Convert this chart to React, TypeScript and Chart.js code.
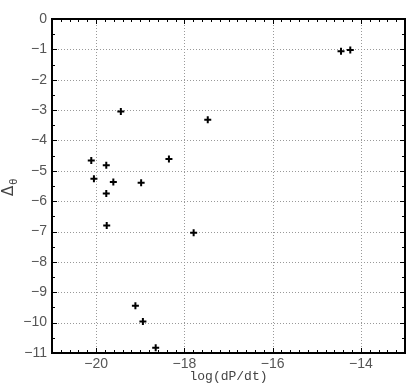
import React, { useEffect, useRef } from "react";
import { Chart, registerables } from "chart.js";

Chart.register(...registerables);

const xValues = [-14.45, -14.24, -19.44, -17.47, -20.11, -19.77, -20.05, -19.61, -19.77, -18.98, -18.35, -19.76, -17.79, -19.11, -18.94, -18.65];
const yValues = [-1.06, -1.02, -3.05, -3.32, -4.66, -4.82, -5.26, -5.37, -5.75, -5.39, -4.61, -6.8, -7.04, -9.44, -9.96, -10.83];
const xTicks = [-20, -18, -16, -14];
const yTicks = [0, -1, -2, -3, -4, -5, -6, -7, -8, -9, -10, -11];
const xTitle = "log(dP/dt)";
const yTitleMain = "Δ";
const yTitleSub = "θ";

const fmt = (v: number) => (v < 0 ? "\u2212" + Math.abs(v) : String(v));

const framePlugin = {
  id: "framePlugin",
  beforeDatasetsDraw(chart: any) {
    const { ctx, chartArea: a, scales } = chart;
    const xs = scales.x, ys = scales.y;
    ctx.save();
    ctx.strokeStyle = "#999";
    ctx.lineWidth = 1;
    ctx.setLineDash([1, 2]);
    xTicks.forEach((v) => {
      const px = Math.round(xs.getPixelForValue(v)) + 0.5;
      ctx.beginPath();
      ctx.moveTo(px, a.top);
      ctx.lineTo(px, a.bottom);
      ctx.stroke();
    });
    yTicks.forEach((v) => {
      const py = Math.round(ys.getPixelForValue(v)) + 0.5;
      ctx.beginPath();
      ctx.moveTo(a.left, py);
      ctx.lineTo(a.right, py);
      ctx.stroke();
    });
    ctx.restore();
  },
  afterDatasetsDraw(chart: any) {
    const { ctx, chartArea: a, scales } = chart;
    const xs = scales.x, ys = scales.y;
    ctx.save();
    ctx.strokeStyle = "#000";
    ctx.lineWidth = 1;
    for (let i = 0; i <= 40; i++) {
      const v = xs.min + i * 0.2;
      const px = Math.round(xs.getPixelForValue(v)) + 0.5;
      const major = xTicks.some((t) => Math.abs(t - v) < 1e-6);
      const len = major ? 5 : 3;
      ctx.beginPath();
      ctx.moveTo(px, a.bottom);
      ctx.lineTo(px, a.bottom - len);
      ctx.moveTo(px, a.top);
      ctx.lineTo(px, a.top + len);
      ctx.stroke();
    }
    for (let i = 0; i <= 22; i++) {
      const v = ys.min + i * 0.5;
      const py = Math.round(ys.getPixelForValue(v)) + 0.5;
      const major = Math.abs(v - Math.round(v)) < 1e-6;
      const len = major ? 5 : 3;
      ctx.beginPath();
      ctx.moveTo(a.left, py);
      ctx.lineTo(a.left + len, py);
      ctx.moveTo(a.right, py);
      ctx.lineTo(a.right - len, py);
      ctx.stroke();
    }
    ctx.lineWidth = 2;
    ctx.strokeRect(a.left, a.top, a.right - a.left, a.bottom - a.top);
    ctx.fillStyle = "#444";
    ctx.translate(13, 190);
    ctx.rotate(-Math.PI / 2);
    ctx.font = "15px 'DejaVu Sans'";
    ctx.textAlign = "left";
    ctx.textBaseline = "alphabetic";
    ctx.fillText(yTitleMain, -6, 0);
    const w = ctx.measureText(yTitleMain).width;
    ctx.font = "10px 'DejaVu Sans'";
    ctx.fillText(yTitleSub, -6 + w + 1, 4);
    ctx.restore();
  },
};

export default function App() {
  const ref = useRef<HTMLCanvasElement>(null);
  useEffect(() => {
    document.body.style.margin = "0";
    const chart = new Chart(ref.current!, {
      type: "scatter",
      data: {
        datasets: [
          {
            data: xValues.map((x, i) => ({ x, y: yValues[i] })),
            pointStyle: "cross",
            radius: 3.5,
            borderWidth: 2,
            borderColor: "#000",
            backgroundColor: "#000",
          } as any,
        ],
      },
      options: {
        responsive: false,
        animation: false,
        layout: { padding: { top: 19, right: 7, left: 0, bottom: 0 } },
        plugins: { legend: { display: false }, tooltip: { enabled: false } },
        scales: {
          x: {
            type: "linear",
            min: -21,
            max: -13,
            afterBuildTicks: (s: any) => {
              s.ticks = xTicks.map((v) => ({ value: v }));
            },
            afterFit: (s: any) => {
              s.height = 31;
            },
            grid: { display: false, drawTicks: false },
            border: { display: false },
            ticks: {
              callback: (v: any) => fmt(Number(v)),
              color: "#555",
              font: { family: "'Liberation Sans', sans-serif", size: 14 },
              padding: 3,
              maxRotation: 0,
            },
            title: {
              display: true,
              text: xTitle,
              color: "#444",
              font: { family: "'Liberation Mono', monospace", size: 13 },
              padding: 0,
            },
          },
          y: {
            type: "linear",
            min: -11,
            max: 0,
            afterBuildTicks: (s: any) => {
              s.ticks = yTicks.map((v) => ({ value: v }));
            },
            afterFit: (s: any) => {
              s.width = 52;
            },
            grid: { display: false, drawTicks: false },
            border: { display: false },
            ticks: {
              callback: (v: any) => fmt(Number(v)),
              color: "#555",
              font: { family: "'Liberation Sans', sans-serif", size: 14 },
              padding: 5,
            },
          },
        },
      } as any,
      plugins: [framePlugin],
    });
    return () => chart.destroy();
  }, []);
  return (
    <div style={{ position: "absolute", left: 0, top: 0, width: 412, height: 384 }}>
      <canvas ref={ref} width={412} height={384} />
    </div>
  );
}
